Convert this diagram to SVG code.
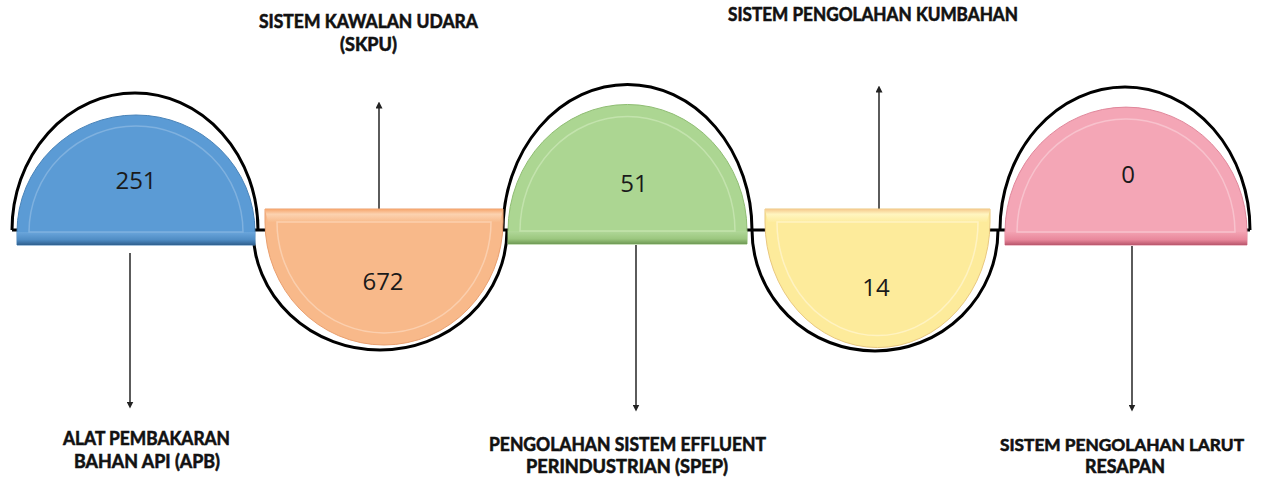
<svg xmlns="http://www.w3.org/2000/svg" width="1262" height="479" viewBox="0 0 1262 479">
<defs>
<style>
.arc{fill:none;stroke:#000;stroke-width:3}
.conn{stroke:#333;stroke-width:1.6;fill:none}
.val{font-family:"Open Sans","Liberation Sans",sans-serif;font-size:24px;fill:#1a1a1a;text-anchor:middle}
.lbl{font-family:Lato,"Liberation Sans",sans-serif;font-weight:bold;font-size:19px;fill:#111;stroke:#111;stroke-width:0.6;text-anchor:middle}
.inner{fill:none;stroke-width:1.5}
</style>
<marker id="ah" viewBox="0 0 10 10" refX="5" refY="5" markerWidth="7" markerHeight="7" orient="auto-start-reverse" markerUnits="userSpaceOnUse">
<path d="M0,0 L10,5 L0,10 Z" fill="#222"/>
</marker>
<linearGradient id="gBlueBand" x1="0" y1="0" x2="0" y2="1"><stop offset="0" stop-color="#6aa6dc"/><stop offset="0.6" stop-color="#4f8cc4"/><stop offset="1" stop-color="#2f5f8e"/></linearGradient>
<linearGradient id="gOrBand" x1="0" y1="0" x2="0" y2="1"><stop offset="0" stop-color="#f6a56c"/><stop offset="0.4" stop-color="#fcd2b0"/><stop offset="1" stop-color="#f8bb8c"/></linearGradient>
<linearGradient id="gGrBand" x1="0" y1="0" x2="0" y2="1"><stop offset="0" stop-color="#b1d899"/><stop offset="0.6" stop-color="#9cc77f"/><stop offset="1" stop-color="#6f9a55"/></linearGradient>
<linearGradient id="gYeBand" x1="0" y1="0" x2="0" y2="1"><stop offset="0" stop-color="#f5c98c"/><stop offset="0.4" stop-color="#fff5c0"/><stop offset="1" stop-color="#fdec9f"/></linearGradient>
<linearGradient id="gPiBand" x1="0" y1="0" x2="0" y2="1"><stop offset="0" stop-color="#f3a2b2"/><stop offset="0.6" stop-color="#e8879b"/><stop offset="1" stop-color="#b9566c"/></linearGradient>
</defs>

<g id="connectors">
<line x1="12" y1="230" x2="1250" y2="230" stroke="#000" stroke-width="3"/>
<path class="arc" d="M12,230 A123,137 0 0 1 258,230"/>
<path class="arc" d="M253,230 A127,120 0 0 0 507,230"/>
<path class="arc" d="M503,230 A124,145 0 0 1 752,230"/>
<path class="arc" d="M752,230 A123,121 0 0 0 998,230"/>
<path class="arc" d="M1000,230 A125,143 0 0 1 1250,230"/>
<line class="conn" x1="130" y1="253" x2="130" y2="405" marker-end="url(#ah)"/>
<line class="conn" x1="379" y1="209" x2="379" y2="105" marker-end="url(#ah)"/>
<line class="conn" x1="636" y1="245" x2="636" y2="408" marker-end="url(#ah)"/>
<line class="conn" x1="879" y1="209" x2="879" y2="89" marker-end="url(#ah)"/>
<line class="conn" x1="1132" y1="246" x2="1132" y2="408" marker-end="url(#ah)"/>
</g>

<g id="node-apb">
<path d="M17,245 L17,232 A119,117 0 0 1 255,232 L255,245 Z" fill="#5b9bd5" stroke="#4a84b9" stroke-width="1"/>
<path d="M17,232 L255,232 L255,245 L17,245 Z" fill="url(#gBlueBand)"/>
<path class="inner" d="M29,232 A107,106 0 0 1 243,232 Z" stroke="#7fb1df"/>
<text class="val" x="136" y="189">251</text>
</g>

<g id="node-skpu">
<path d="M265,209 L503,209 L503,222 A119,123 0 0 1 265,222 Z" fill="#f8b98a" stroke="#e9a070" stroke-width="1"/>
<path d="M265,209 L503,209 L500,222 L268,222 Z" fill="url(#gOrBand)"/>
<path class="inner" d="M277,222 L491,222 A107,111 0 0 1 277,222 Z" stroke="#fbcfae"/>
<text class="val" x="383" y="290">672</text>
</g>

<g id="node-spep">
<path d="M508,244 L508,231 A119,126 0 0 1 747,231 L747,244 Z" fill="#acd692" stroke="#8fbd73" stroke-width="1"/>
<path d="M508,231 L747,231 L747,244 L508,244 Z" fill="url(#gGrBand)"/>
<path class="inner" d="M520,231 A107,114 0 0 1 735,231 Z" stroke="#c3e3ad"/>
<text class="val" x="634" y="192">51</text>
</g>

<g id="node-kumbahan">
<path d="M765,209 L990,209 L990,222 A112,125 0 0 1 765,222 Z" fill="#fdeb9b" stroke="#e9c880" stroke-width="1"/>
<path d="M765,209 L990,209 L987,222 L768,222 Z" fill="url(#gYeBand)"/>
<path class="inner" d="M777,222 L978,222 A100,113 0 0 1 777,222 Z" stroke="#fff3c2"/>
<text class="val" x="876" y="296">14</text>
</g>

<g id="node-resapan">
<path d="M1005,245 L1005,232 A121,125 0 0 1 1247,232 L1247,245 Z" fill="#f4a6b6" stroke="#e0879b" stroke-width="1"/>
<path d="M1005,232 L1247,232 L1247,245 L1005,245 Z" fill="url(#gPiBand)"/>
<path class="inner" d="M1017,232 A109,113 0 0 1 1235,232 Z" stroke="#f8c2cd"/>
<text class="val" x="1128" y="183">0</text>
</g>

<g id="labels">
<text class="lbl" x="368.5" y="28" textLength="219" lengthAdjust="spacingAndGlyphs">SISTEM KAWALAN UDARA</text>
<text class="lbl" x="368.5" y="51" textLength="57" lengthAdjust="spacingAndGlyphs">(SKPU)</text>
<text class="lbl" x="873" y="21" textLength="290" lengthAdjust="spacingAndGlyphs">SISTEM PENGOLAHAN KUMBAHAN</text>
<text class="lbl" x="146.5" y="445" textLength="167" lengthAdjust="spacingAndGlyphs">ALAT PEMBAKARAN</text>
<text class="lbl" x="147" y="468" textLength="146" lengthAdjust="spacingAndGlyphs">BAHAN API (APB)</text>
<text class="lbl" x="627.5" y="451" textLength="277" lengthAdjust="spacingAndGlyphs">PENGOLAHAN SISTEM EFFLUENT</text>
<text class="lbl" x="627" y="473" textLength="202" lengthAdjust="spacingAndGlyphs">PERINDUSTRIAN (SPEP)</text>
<text class="lbl" x="1122" y="451" style="font-size:17px" textLength="244" lengthAdjust="spacingAndGlyphs">SISTEM PENGOLAHAN LARUT</text>
<text class="lbl" x="1125" y="473" textLength="80" lengthAdjust="spacingAndGlyphs">RESAPAN</text>
</g>
</svg>
